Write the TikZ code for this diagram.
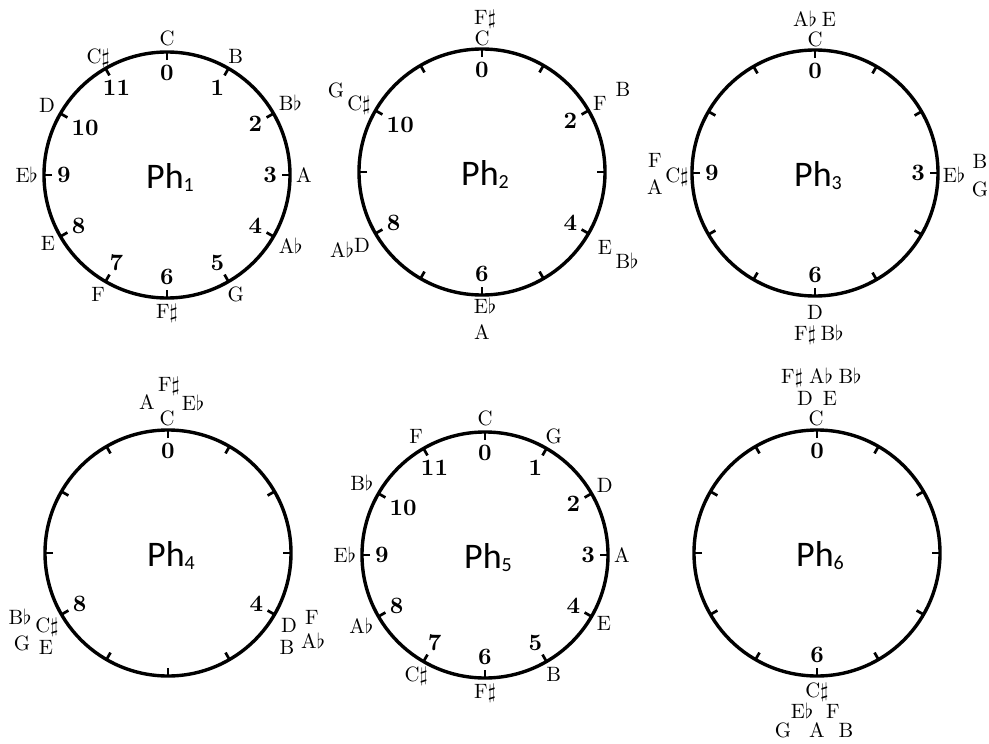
\documentclass[tikz,border=0pt]{standalone}
\usepackage{fontspec}
\setmainfont{lmroman10-regular.otf}[BoldFont=lmroman10-bold.otf]
\newfontfamily\phfont{Carlito}
\newcommand{\nflat}{\scalebox{2.07}{\normalsize$\flat$}}
\newcommand{\nsharp}{\scalebox{2.07}{\normalsize$\sharp$}}
\tikzset{
  ring/.style={line width=3.4pt},
  tickmark/.style={line width=2.7pt},
  num/.style={font=\fontsize{23.5}{26}\selectfont\bfseries, inner sep=0pt, text height=15.2pt, text depth=0pt},
  note/.style={font=\fontsize{20.74}{24}\selectfont, inner sep=0pt, text height=14.3pt, text depth=0pt},
  phlabel/.style={font=\phfont\fontsize{36}{40}\selectfont, inner sep=0pt, anchor=base},
}
% dial: #1 prefix, #2 digit
\newcommand{\dialbase}[2]{%
  \draw[ring] (0,0) circle (123);
  \foreach \k in {0,...,11} {\draw[tickmark] ({30*\k-90}:115) -- ({30*\k-90}:123);}
  \node[phlabel] (#1ph) at (3,13) {Ph\raisebox{-3pt}{\fontsize{20}{20}\selectfont #2}};
}
\newcommand{\dialnums}[2]{%
  \foreach \k in {#2} {%
    \pgfmathtruncatemacro\bn{mod(450-30*\k,360)}%
    \node[num, anchor=\bn] (#1n\k) at ({30*\k-90}:110) {\k};}
}
\newcommand{\dialnotes}[2]{%
  \foreach \k/\t in {#2} {%
    \pgfmathtruncatemacro\an{mod(630-30*\k,360)}%
    \node[note, anchor=\an] (#1t\k) at ({30*\k-90}:129) {\t};}
}
\begin{document}
\begin{tikzpicture}[x=1pt,y=-1pt]
\useasboundingbox (0,0) rectangle (989,744);

% Ph1
\begin{scope}[shift={(167,175)}]
  \dialbase{p1}{1}
  \dialnums{p1}{0,...,11}
  \dialnotes{p1}{0/C,1/B,2/B\nflat,3/A,4/A\nflat,5/G,6/F\nsharp,7/F,8/E,9/E\nflat,10/D,11/C\nsharp}
\end{scope}

% Ph2
\begin{scope}[shift={(482,172)}]
  \dialbase{p2}{2}
  \dialnums{p2}{0,2,4,6,8,10}
  \node[note] (p2fs) at (3,-155) {F\nsharp};
  \node[note] (p2c) at (0,-134) {C};
  \node[note] (p2f) at (118,-69) {F};
  \node[note] (p2b) at (141,-83) {B};
  \node[note] (p2e) at (123,75) {E};
  \node[note] (p2bb) at (145,89) {B\nflat};
  \node[note] (p2eb) at (3,134) {E\nflat};
  \node[note] (p2a) at (0,160) {A};
  \node[note] (p2d) at (-120,73) {D};
  \node[note] (p2ab) at (-140,78) {A\nflat};
  \node[note] (p2cs) at (-123,-69) {C\nsharp};
  \node[note] (p2g) at (-146,-82) {G};
\end{scope}

% Ph3
\begin{scope}[shift={(815,173)}]
  \dialbase{p3}{3}
  \dialnums{p3}{0,3,6,9}
  \node[note] (p3ab) at (-10,-154) {A\nflat};
  \node[note] (p3e) at (14,-154) {E};
  \node[note] (p3c) at (0,-134) {C};
  \node[note] (p3f) at (-160,-13) {F};
  \node[note] (p3cs) at (-138,2) {C\nsharp};
  \node[note] (p3a) at (-160,14) {A};
  \node[note] (p3eb) at (139,2) {E\nflat};
  \node[note] (p3b) at (165,-12) {B};
  \node[note] (p3g) at (165,16) {G};
  \node[note] (p3d) at (0,139) {D};
  \node[note] (p3fs) at (-10,160) {F\nsharp};
  \node[note] (p3bb) at (17,160) {B\nflat};
\end{scope}

% Ph4
\begin{scope}[shift={(168,553)}]
  \dialbase{p4}{4}
  \dialnums{p4}{0,4,8}
  \node[note] (p4fs) at (1,-169) {F\nsharp};
  \node[note] (p4a) at (-21,-151) {A};
  \node[note] (p4eb) at (25,-150) {E\nflat};
  \node[note] (p4c) at (-1,-135) {C};
  \node[note] (p4d) at (121,72) {D};
  \node[note] (p4f) at (144,64) {F};
  \node[note] (p4b) at (119,94) {B};
  \node[note] (p4ab) at (145,88) {A\nflat};
  \node[note] (p4bb) at (-148,64) {B\nflat};
  \node[note] (p4cs) at (-121,72) {C\nsharp};
  \node[note] (p4g) at (-146,90) {G};
  \node[note] (p4e) at (-122,94) {E};
\end{scope}

% Ph5
\begin{scope}[shift={(485,555)}]
  \dialbase{p5}{5}
  \dialnums{p5}{0,...,11}
  \dialnotes{p5}{0/C,1/G,2/D,3/A,4/E,5/B,6/F\nsharp,7/C\nsharp,8/A\nflat,9/E\nflat,10/B\nflat,11/F}
\end{scope}

% Ph6
\begin{scope}[shift={(817,553)}]
  \dialbase{p6}{6}
  \dialnums{p6}{0,6}
  \node[note] (p6fs) at (-25,-177) {F\nsharp};
  \node[note] (p6ab) at (4,-177) {A\nflat};
  \node[note] (p6bb) at (33,-177) {B\nflat};
  \node[note] (p6d) at (-12,-155) {D};
  \node[note] (p6e) at (13,-155) {E};
  \node[note] (p6c) at (-1,-135) {C};
  \node[note] (p6cs) at (0,137) {C\nsharp};
  \node[note] (p6eb) at (-15,158) {E\nflat};
  \node[note] (p6f) at (16,158) {F};
  \node[note] (p6g) at (-34,177) {G};
  \node[note] (p6a) at (0,177) {A};
  \node[note] (p6b) at (29,177) {B};
\end{scope}
\end{tikzpicture}
\end{document}
